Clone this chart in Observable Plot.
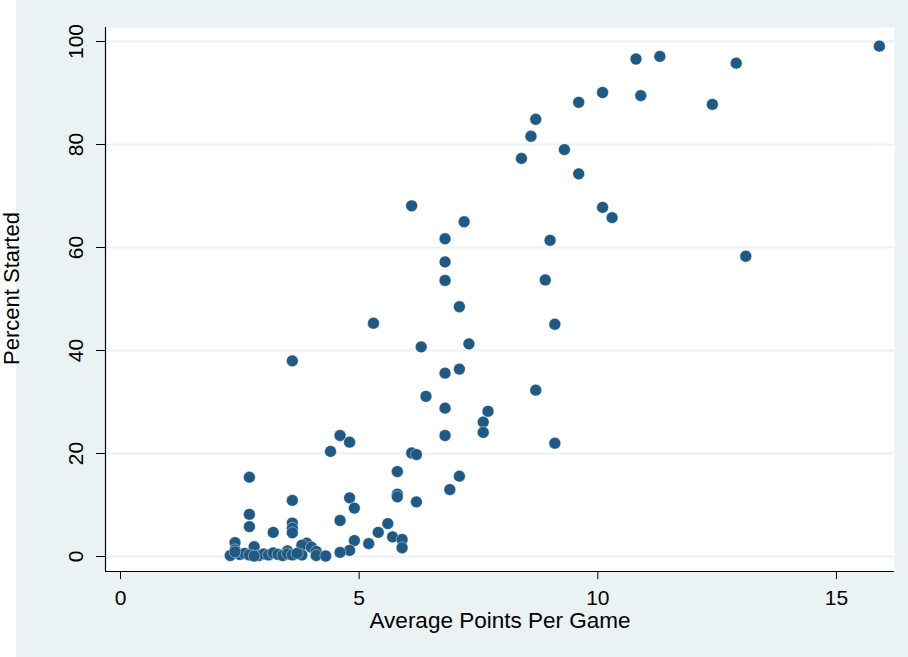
<!DOCTYPE html>
<html>
<head>
<meta charset="utf-8">
<script src="https://cdn.jsdelivr.net/npm/d3@7"></script>
<script src="https://cdn.jsdelivr.net/npm/@observablehq/plot@0.6"></script>
<style>
  html, body { margin: 0; padding: 0; background: white; }
  #chart svg { display: block; }
</style>
</head>
<body>
<div id="chart"></div>
<script>
// Average points per game
const ppg = [
  15.9, 10.8, 11.3, 12.9, 10.1, 9.6, 10.9, 12.4, 8.7, 8.6,
  9.3, 8.4, 9.6, 6.1, 10.1, 10.3, 7.2, 6.8, 9.0, 13.1,
  6.8, 6.8, 8.9, 7.1, 5.3, 9.1, 7.3, 6.3, 3.6, 7.1,
  6.8, 8.7, 6.4, 7.7, 6.8, 7.6, 7.6, 4.6, 6.8, 4.8,
  9.1, 4.4, 6.1, 6.2, 5.8, 7.1, 2.7, 6.9, 5.8, 5.8,
  4.8, 3.6, 6.2, 4.9, 2.7, 4.6, 5.6, 3.6, 3.6, 2.7,
  3.6, 3.2, 5.4, 5.7, 5.9, 4.9, 3.9, 5.2, 2.4, 3.8,
  2.8, 5.9, 4.8, 2.4, 4.0, 4.1, 4.6, 3.5,
  2.3, 2.5, 2.6, 2.7, 2.9, 3.0, 3.1, 3.2, 3.3, 3.4,
  3.5, 3.8, 4.1, 4.3, 2.8, 3.6, 2.4, 3.7
];
// Percent of games started
const pctStarted = [
  99.1, 96.6, 97.1, 95.8, 90.1, 88.2, 89.5, 87.8, 84.9, 81.6,
  79.0, 77.3, 74.3, 68.1, 67.8, 65.8, 65.0, 61.7, 61.4, 58.3,
  57.2, 53.6, 53.7, 48.5, 45.3, 45.1, 41.3, 40.7, 38.0, 36.4,
  35.6, 32.3, 31.1, 28.2, 28.8, 26.1, 24.1, 23.5, 23.5, 22.2,
  22.0, 20.4, 20.1, 19.8, 16.5, 15.6, 15.4, 13.0, 12.1, 11.6,
  11.4, 10.9, 10.6, 9.4, 8.2, 7.0, 6.4, 6.5, 5.5, 5.8,
  4.6, 4.7, 4.7, 3.8, 3.3, 3.1, 2.6, 2.5, 2.7, 2.2,
  1.9, 1.7, 1.2, 1.3, 1.8, 1.0, 0.8, 1.1,
  0.2, 0.4, 0.6, 0.3, 0.2, 0.5, 0.3, 0.7, 0.4, 0.2,
  0.5, 0.3, 0.2, 0.1, 0.1, 0.3, 0.9, 0.6
];
const xTicks = [0, 5, 10, 15];
const yTicks = [0, 20, 40, 60, 80, 100];
const xTitle = "Average Points Per Game";
const yTitle = "Percent Started";
const xDomain = [-0.314, 16.216];
const yDomain = [-2.91, 102.72];

const rows = ppg.map((v, i) => ({ppg: v, pct: pctStarted[i]}));

const font = "'Liberation Sans', Arial, Helvetica, sans-serif";
const bg = "#eaf2f3";
const marker = "#1f5a84";

const chart = Plot.plot({
  width: 908,
  height: 657,
  marginLeft: 105,
  marginRight: 14,
  marginTop: 27,
  marginBottom: 86,
  style: {
    background: `linear-gradient(to right, white 16px, ${bg} 16px)`,
    fontFamily: font,
    fontSize: "21px",
    color: "black"
  },
  x: {domain: xDomain, axis: null},
  y: {domain: yDomain, axis: null},
  marks: [
    Plot.frame({fill: "white", stroke: "none"}),
    Plot.gridY(yTicks, {stroke: bg, strokeOpacity: 1, strokeWidth: 2}),
    Plot.ruleX([xDomain[0]], {stroke: "black", strokeWidth: 1.2}),
    Plot.ruleY([yDomain[0]], {stroke: "black", strokeWidth: 1.2}),
    Plot.axisX(xTicks, {anchor: "bottom", tickSize: 8, tickPadding: 11, fontSize: 21, stroke: "black", label: null}),
    Plot.axisY(yTicks, {anchor: "left", tickSize: 9, tickPadding: 14, tickRotate: -90, fontSize: 21, stroke: "black", label: null}),
    Plot.dot(rows, {x: "ppg", y: "pct", r: 5.9, fill: marker, stroke: "white", strokeWidth: 0.4}),
    Plot.text([xTitle], {frameAnchor: "bottom", dy: 56, lineAnchor: "bottom", fontSize: 22.5, fill: "black"}),
    Plot.text([yTitle], {frameAnchor: "left", dx: -87, dy: -11, rotate: -90, lineAnchor: "bottom", textAnchor: "middle", fontSize: 22, fill: "black"})
  ]
});

document.getElementById("chart").appendChild(chart);
</script>
</body>
</html>
